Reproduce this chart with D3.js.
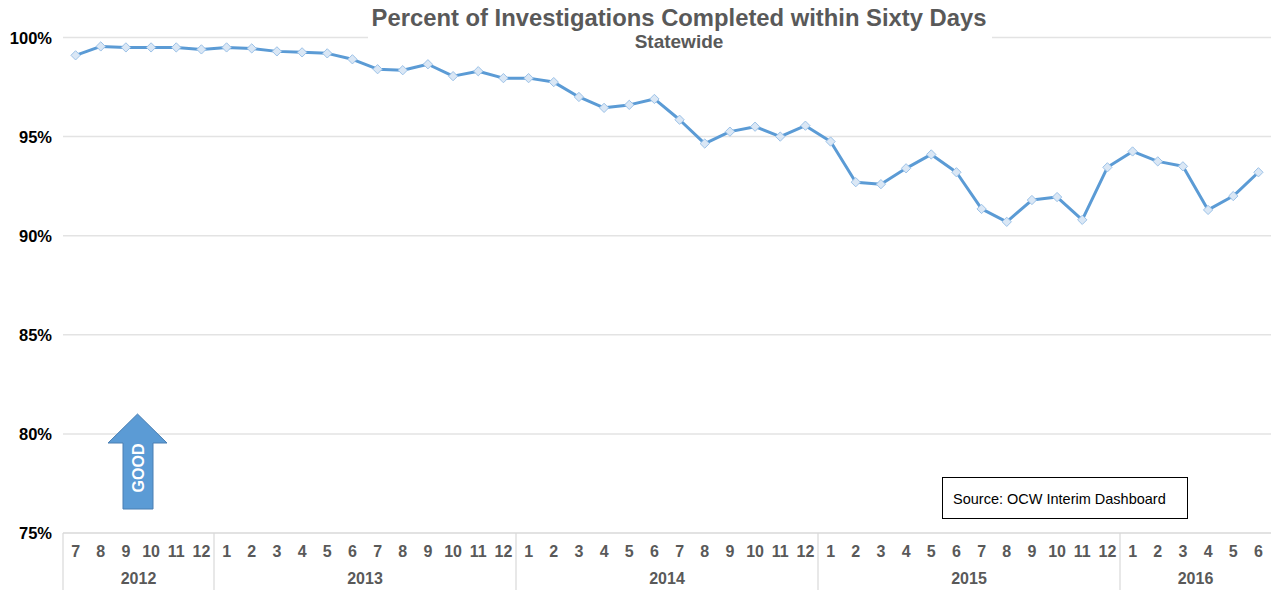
<!DOCTYPE html>
<html>
<head>
<meta charset="utf-8">
<script src="https://cdn.jsdelivr.net/npm/d3@7"></script>
<style>
  body { margin: 0; background: #fff; }
  svg { display: block; font-family: "Liberation Sans", Arial, sans-serif; }
</style>
</head>
<body>
<svg id="chart" width="1274" height="590"></svg>
<script>
// --- data ---
const months = [7,8,9,10,11,12, 1,2,3,4,5,6,7,8,9,10,11,12, 1,2,3,4,5,6,7,8,9,10,11,12,
                1,2,3,4,5,6,7,8,9,10,11,12, 1,2,3,4,5,6];
const years = ["2012","2013","2014","2015","2016"];
const yearCounts = [6, 12, 12, 12, 6];
const pct = [99.1, 99.55, 99.5, 99.5, 99.5, 99.4,
             99.5, 99.45, 99.3, 99.25, 99.2, 98.9, 98.4, 98.35, 98.65, 98.05, 98.3, 97.95,
             97.95, 97.75, 97.0, 96.45, 96.6, 96.9, 95.85, 94.65, 95.25, 95.5, 95.0, 95.55,
             94.75, 92.7, 92.6, 93.4, 94.1, 93.2, 91.35, 90.7, 91.8, 91.95, 90.8, 93.45,
             94.25, 93.75, 93.5, 91.3, 92.0, 93.2];
const yTicks = [75, 80, 85, 90, 95, 100];

function drawChart() {
  const svg = d3.select("#chart");
  const left = 63, right = 1271, top = 37.5, bottom = 533;

  const x = d3.scaleBand().domain(d3.range(months.length)).range([left, right]);
  const y = d3.scaleLinear().domain([75, 100]).range([bottom, top]);

  // gridlines
  svg.append("g").selectAll("line")
    .data(yTicks.slice(1)).join("line")
    .attr("x1", left).attr("x2", right)
    .attr("y1", d => y(d)).attr("y2", d => y(d))
    .attr("stroke", "#e3e3e3").attr("stroke-width", 1.5);

  // y labels
  svg.append("g").selectAll("text")
    .data(yTicks).join("text")
    .attr("x", 52).attr("y", d => y(d) + 6)
    .attr("text-anchor", "end")
    .attr("font-size", 16.5).attr("font-weight", "bold").attr("fill", "#000")
    .text(d => d + "%");

  // category axis
  const axis = svg.append("g");
  axis.append("line")
    .attr("x1", left).attr("x2", right).attr("y1", bottom).attr("y2", bottom)
    .attr("stroke", "#d9d9d9").attr("stroke-width", 1.5);

  let start = 0;
  const spans = years.map((yr, i) => {
    const s = { year: yr, from: start, to: start + yearCounts[i] - 1 };
    start += yearCounts[i];
    return s;
  });

  axis.selectAll("line.sep")
    .data(spans).join("line").attr("class", "sep")
    .attr("x1", d => x(d.from)).attr("x2", d => x(d.from))
    .attr("y1", bottom).attr("y2", 590)
    .attr("stroke", "#d9d9d9").attr("stroke-width", 1.2);

  axis.selectAll("text.month")
    .data(months).join("text").attr("class", "month")
    .attr("x", (d, i) => x(i) + x.bandwidth() / 2).attr("y", 557)
    .attr("text-anchor", "middle")
    .attr("font-size", 16).attr("font-weight", "bold").attr("fill", "#595959")
    .text(d => d);

  axis.selectAll("text.year")
    .data(spans).join("text").attr("class", "year")
    .attr("x", d => (x(d.from) + x(d.to) + x.bandwidth()) / 2).attr("y", 584)
    .attr("text-anchor", "middle")
    .attr("font-size", 16).attr("font-weight", "bold").attr("fill", "#595959")
    .text(d => d.year);

  // title (white box breaks the 100% gridline)
  svg.append("rect").attr("x", 368).attr("y", 2).attr("width", 624).attr("height", 52).attr("fill", "#fff");
  svg.append("text").attr("x", 679).attr("y", 26).attr("text-anchor", "middle")
    .attr("font-size", 23.8).attr("font-weight", "bold").attr("fill", "#595959")
    .text("Percent of Investigations Completed within Sixty Days");
  svg.append("text").attr("x", 679).attr("y", 48).attr("text-anchor", "middle")
    .attr("font-size", 19).attr("font-weight", "bold").attr("fill", "#595959")
    .text("Statewide");

  // line + markers
  const line = d3.line()
    .x((d, i) => x(i) + x.bandwidth() / 2)
    .y(d => y(d));

  svg.append("path").datum(pct)
    .attr("d", line)
    .attr("fill", "none").attr("stroke", "#5b9bd5").attr("stroke-width", 3)
    .attr("stroke-linejoin", "round");

  svg.append("g").selectAll("path")
    .data(pct).join("path")
    .attr("d", d3.symbol(d3.symbolDiamond2, 55))
    .attr("transform", (d, i) => `translate(${x(i) + x.bandwidth() / 2},${y(d)})`)
    .attr("fill", "#dae7f5").attr("stroke", "#9cc2e8").attr("stroke-width", 1);

  // GOOD arrow
  const arrow = svg.append("g");
  arrow.append("path")
    .attr("d", "M137.5,414 L167,443 L153,443 L153,509 L123,509 L123,443 L108,443 Z")
    .attr("fill", "#5b9bd5").attr("stroke", "#4a7fb3").attr("stroke-width", 1);
  arrow.append("text")
    .attr("transform", "translate(144,468) rotate(-90)")
    .attr("text-anchor", "middle")
    .attr("font-size", 16).attr("font-weight", "bold").attr("fill", "#fff")
    .text("GOOD");

  // source box
  svg.append("rect").attr("x", 942.5).attr("y", 477.5).attr("width", 245).attr("height", 41)
    .attr("fill", "#fff").attr("stroke", "#000").attr("stroke-width", 1);
  svg.append("text").attr("x", 953).attr("y", 504)
    .attr("font-size", 14.5).attr("fill", "#000")
    .text("Source: OCW Interim Dashboard");
}

document.addEventListener("DOMContentLoaded", () => drawChart());
</script>
</body>
</html>
